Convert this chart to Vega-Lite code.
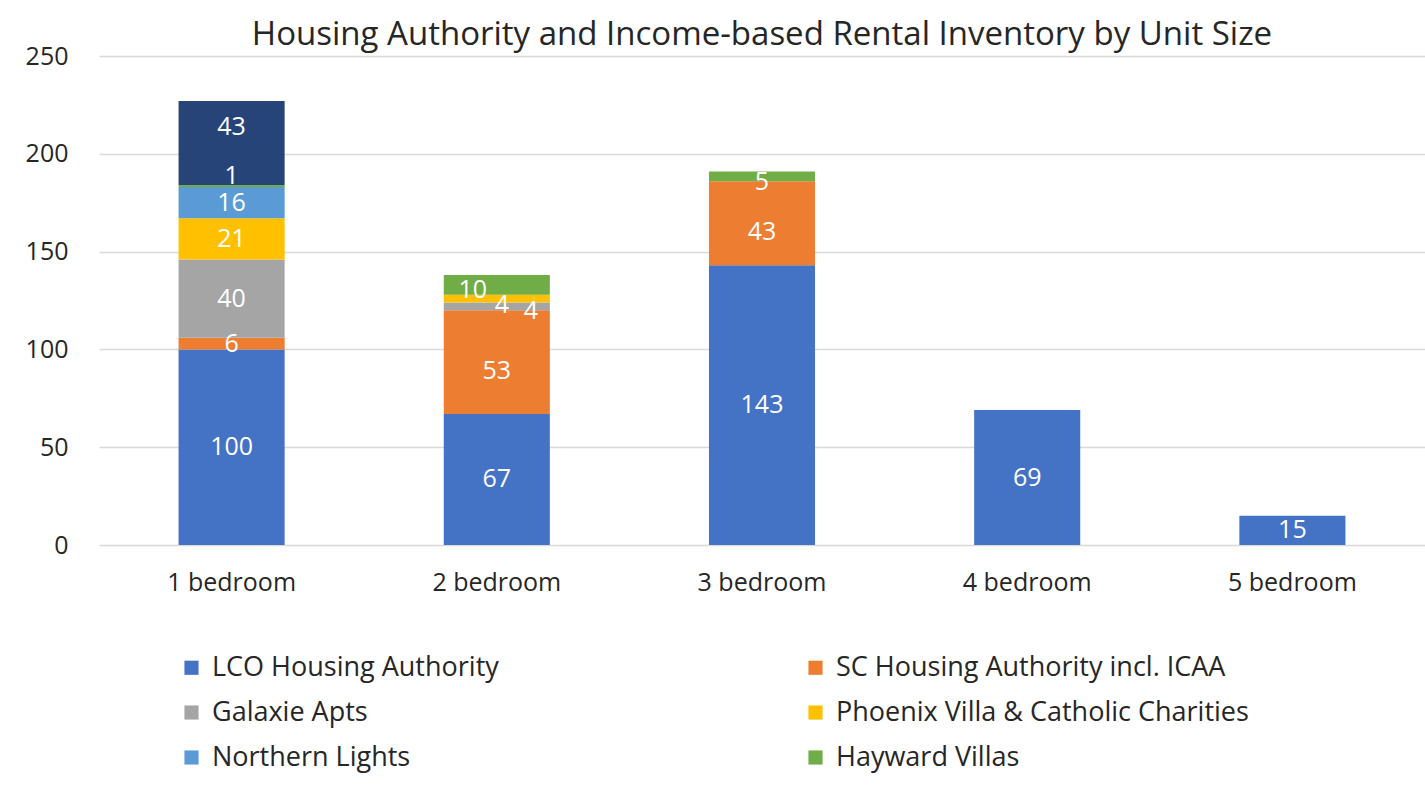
{
  "$schema": "https://vega.github.io/schema/vega-lite/v6.json",
  "autosize": {"type": "none"},
  "padding": {"left": 99, "top": 56, "right": 0, "bottom": 242},
  "width": 1326,
  "height": 489,
  "background": "white",
  "title": {
    "text": "Housing Authority and Income-based Rental Inventory by Unit Size",
    "font": "Open Sans",
    "fontSize": 33,
    "fontWeight": "normal",
    "color": "#262626",
    "anchor": "middle",
    "offset": -8
  },
  "config": {
    "view": {"stroke": null},
    "axisY": {
      "title": null,
      "tickCount": 5,
      "labelFont": "Open Sans",
      "labelFontSize": 25,
      "labelColor": "#262626",
      "labelPadding": 31,
      "ticks": false,
      "domain": false,
      "gridColor": "#d9d9d9",
      "gridWidth": 1.5
    }
  },
  "data": {
    "values": [
      {"size": "1 bedroom", "series": "LCO Housing Authority", "k": 1, "value": 100},
      {"size": "1 bedroom", "series": "SC Housing Authority incl. ICAA", "k": 2, "value": 6},
      {"size": "1 bedroom", "series": "Galaxie Apts", "k": 3, "value": 40},
      {"size": "1 bedroom", "series": "Phoenix Villa & Catholic Charities", "k": 4, "value": 21},
      {"size": "1 bedroom", "series": "Northern Lights", "k": 5, "value": 16},
      {"size": "1 bedroom", "series": "Hayward Villas", "k": 6, "value": 1},
      {"size": "1 bedroom", "series": "Other", "k": 7, "value": 43},
      {"size": "2 bedroom", "series": "LCO Housing Authority", "k": 1, "value": 67},
      {"size": "2 bedroom", "series": "SC Housing Authority incl. ICAA", "k": 2, "value": 53},
      {"size": "2 bedroom", "series": "Galaxie Apts", "k": 3, "value": 4},
      {"size": "2 bedroom", "series": "Phoenix Villa & Catholic Charities", "k": 4, "value": 4},
      {"size": "2 bedroom", "series": "Hayward Villas", "k": 6, "value": 10},
      {"size": "3 bedroom", "series": "LCO Housing Authority", "k": 1, "value": 143},
      {"size": "3 bedroom", "series": "SC Housing Authority incl. ICAA", "k": 2, "value": 43},
      {"size": "3 bedroom", "series": "Hayward Villas", "k": 6, "value": 5},
      {"size": "4 bedroom", "series": "LCO Housing Authority", "k": 1, "value": 69},
      {"size": "5 bedroom", "series": "LCO Housing Authority", "k": 1, "value": 15}
    ]
  },
  "transform": [
    {"stack": "value", "groupby": ["size"], "sort": [{"field": "k", "order": "ascending"}], "as": ["y0", "y1"]}
  ],
  "encoding": {
    "x": {
      "field": "size",
      "type": "nominal",
      "scale": {"paddingInner": 0.6, "paddingOuter": 0.3},
      "axis": {
        "title": null,
        "labelAngle": 0,
        "labelFont": "Open Sans",
        "labelFontSize": 25,
        "labelColor": "#262626",
        "labelPadding": 25,
        "ticks": false,
        "domain": false
      }
    }
  },
  "layer": [
    {
      "mark": {"type": "bar"},
      "encoding": {
        "y": {"field": "y0", "type": "quantitative", "scale": {"domain": [0, 250]}},
        "y2": {"field": "y1"},
        "color": {
          "field": "series",
          "type": "nominal",
          "scale": {
            "domain": ["LCO Housing Authority", "SC Housing Authority incl. ICAA", "Galaxie Apts", "Phoenix Villa & Catholic Charities", "Northern Lights", "Hayward Villas", "Other"],
            "range": ["#4472C4", "#ED7D31", "#A5A5A5", "#FFC000", "#5B9BD5", "#70AD47", "#264478"]
          },
          "legend": {
            "values": ["LCO Housing Authority", "SC Housing Authority incl. ICAA", "Galaxie Apts", "Phoenix Villa & Catholic Charities", "Northern Lights", "Hayward Villas"],
            "title": null,
            "orient": "none",
            "legendX": 79,
            "legendY": 598,
            "direction": "horizontal",
            "columns": 2,
            "symbolType": "square",
            "symbolSize": 200,
            "symbolStrokeWidth": 0,
            "labelFont": "Open Sans",
            "labelFontSize": 27,
            "labelColor": "#262626",
            "labelLimit": 600,
            "labelOffset": 7,
            "rowPadding": 17,
            "columnPadding": 303
          }
        }
      }
    },
    {
      "transform": [
        {"fold": ["y0", "y1"], "as": ["end", "pos"]},
        {"aggregate": [{"op": "mean", "field": "pos", "as": "mid"}], "groupby": ["size", "series", "value"]}
      ],
      "encoding": {
        "y": {"field": "mid", "type": "quantitative", "scale": {"domain": [0, 250]}},
        "text": {"field": "value", "type": "quantitative"}
      },
      "layer": [
        {
          "transform": [{"filter": "!((datum.size == '1 bedroom' && (datum.series == 'Other' || datum.series == 'Hayward Villas')) || (datum.size == '2 bedroom' && datum.value < 20) || (datum.series == 'SC Housing Authority incl. ICAA' && datum.value > 40) || datum.size == '3 bedroom' && datum.series == 'Hayward Villas')"}],
          "mark": {"type": "text", "color": "white", "font": "Open Sans", "fontSize": 25, "baseline": "middle"}
        },
        {
          "transform": [{"filter": "datum.series == 'SC Housing Authority incl. ICAA' && datum.value > 40"}],
          "mark": {"type": "text", "color": "white", "font": "Open Sans", "fontSize": 25, "baseline": "middle", "dy": 9}
        },
        {
          "transform": [{"filter": "datum.size == '3 bedroom' && datum.series == 'Hayward Villas'"}],
          "mark": {"type": "text", "color": "white", "font": "Open Sans", "fontSize": 25, "baseline": "middle", "dy": 6}
        },
        {
          "transform": [{"filter": "datum.size == '1 bedroom' && datum.series == 'Other'"}],
          "mark": {"type": "text", "color": "white", "font": "Open Sans", "fontSize": 25, "baseline": "middle", "dy": -16}
        },
        {
          "transform": [{"filter": "datum.size == '1 bedroom' && datum.series == 'Hayward Villas'"}],
          "mark": {"type": "text", "color": "white", "font": "Open Sans", "fontSize": 25, "baseline": "middle", "dy": -10}
        },
        {
          "transform": [{"filter": "datum.size == '2 bedroom' && datum.series == 'Hayward Villas'"}],
          "mark": {"type": "text", "color": "white", "font": "Open Sans", "fontSize": 25, "baseline": "middle", "dx": -24, "dy": 5}
        },
        {
          "transform": [{"filter": "datum.size == '2 bedroom' && datum.series == 'Phoenix Villa & Catholic Charities'"}],
          "mark": {"type": "text", "color": "white", "font": "Open Sans", "fontSize": 25, "baseline": "middle", "dx": 5, "dy": 6}
        },
        {
          "transform": [{"filter": "datum.size == '2 bedroom' && datum.series == 'Galaxie Apts'"}],
          "mark": {"type": "text", "color": "white", "font": "Open Sans", "fontSize": 25, "baseline": "middle", "dx": 34, "dy": 5}
        }
      ]
    }
  ]
}
